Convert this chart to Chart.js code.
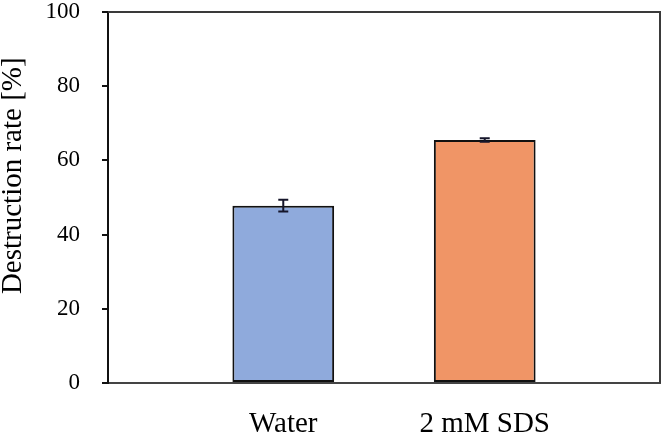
<!DOCTYPE html>
<html>
<head>
<meta charset="utf-8">
<script src="https://cdn.jsdelivr.net/npm/chart.js@4.4.0/dist/chart.umd.min.js"></script>
<style>
  body { margin: 0; background: #fff; }
</style>
</head>
<body>
<canvas id="myChart" width="663" height="435"></canvas>
<script>
// data
var categories = ['Water', '2 mM SDS'];
var destructionRate = [47.8, 65.5];
var errorValues = [1.6, 0.5];
var yTickLabels = [0, 20, 40, 60, 80, 100];
var barColors = ['#8FAADC', '#F09566'];

var serif = '"Liberation Serif", "Times New Roman", serif';

// error bars drawn through the scales
var errorBars = {
  id: 'errorBars',
  afterDatasetsDraw: function (chart) {
    var ctx = chart.ctx;
    var xs = chart.scales.x, ys = chart.scales.y;
    ctx.save();
    ctx.strokeStyle = '#15152a';
    ctx.lineWidth = 2;
    destructionRate.forEach(function (v, i) {
      var x = xs.getPixelForValue(i);
      var top = ys.getPixelForValue(v + errorValues[i]);
      var bot = ys.getPixelForValue(v - errorValues[i]);
      ctx.beginPath();
      ctx.moveTo(x, top); ctx.lineTo(x, bot);
      ctx.moveTo(x - 5, top); ctx.lineTo(x + 5, top);
      ctx.moveTo(x - 5, bot); ctx.lineTo(x + 5, bot);
      ctx.stroke();
    });
    ctx.restore();
  }
};

// top and right side of the plot box
var plotFrame = {
  id: 'plotFrame',
  afterDraw: function (chart) {
    var a = chart.chartArea, ctx = chart.ctx;
    ctx.save();
    ctx.strokeStyle = '#3a3a3a';
    ctx.lineWidth = 2;
    ctx.beginPath();
    ctx.moveTo(a.left, a.top);
    ctx.lineTo(a.right, a.top);
    ctx.lineTo(a.right, a.bottom);
    ctx.stroke();
    ctx.restore();
  }
};

var ctx = document.getElementById('myChart');
new Chart(ctx, {
  type: 'bar',
  data: {
    datasets: [{
      data: destructionRate.map(function (v, i) { return {x: i, y: v}; }),
      backgroundColor: barColors,
      borderColor: '#111',
      borderWidth: 2,
      borderSkipped: false,
      barPercentage: 0.505,
      categoryPercentage: 1
    }]
  },
  options: {
    responsive: false,
    animation: false,
    layout: { padding: { top: 0, right: 3, left: 0, bottom: 0 } },
    plugins: { legend: { display: false }, tooltip: { enabled: false } },
    scales: {
      x: {
        type: 'linear',
        offset: false,
        min: -0.87,
        max: 1.87,
        afterBuildTicks: function (scale) {
          scale.ticks = categories.map(function (c, i) { return {value: i}; });
        },
        afterFit: function (scale) { scale.height = 52; },
        grid: { display: false, offset: false },
        border: { display: true, color: '#444', width: 2 },
        ticks: {
          autoSkip: false,
          maxRotation: 0,
          padding: 16,
          color: '#000',
          font: { family: serif, size: 29 },
          callback: function (v) { return categories[v]; }
        }
      },
      y: {
        min: 0,
        max: 100,
        afterBuildTicks: function (scale) {
          scale.ticks = yTickLabels.map(function (t) { return {value: t}; });
        },
        afterFit: function (scale) {
          scale.width = 108;
          scale.paddingTop = 12;
          scale.paddingBottom = 0;
        },
        grid: { drawOnChartArea: false, tickLength: 6, color: '#111', lineWidth: 2 },
        border: { display: true, color: '#111', width: 2 },
        ticks: {
          padding: 22,
          color: '#000',
          font: { family: serif, size: 23, lineHeight: 1 }
        },
        title: {
          display: true,
          // leading spaces lift the label a little, as in the original
          text: '\u00a0\u00a0\u00a0\u00a0\u00a0\u00a0Destruction rate [%]',
          color: '#000',
          padding: { top: 0, bottom: 0 },
          font: { family: serif, size: 29, lineHeight: 0.9 }
        }
      }
    }
  },
  plugins: [errorBars, plotFrame]
});
</script>
</body>
</html>
